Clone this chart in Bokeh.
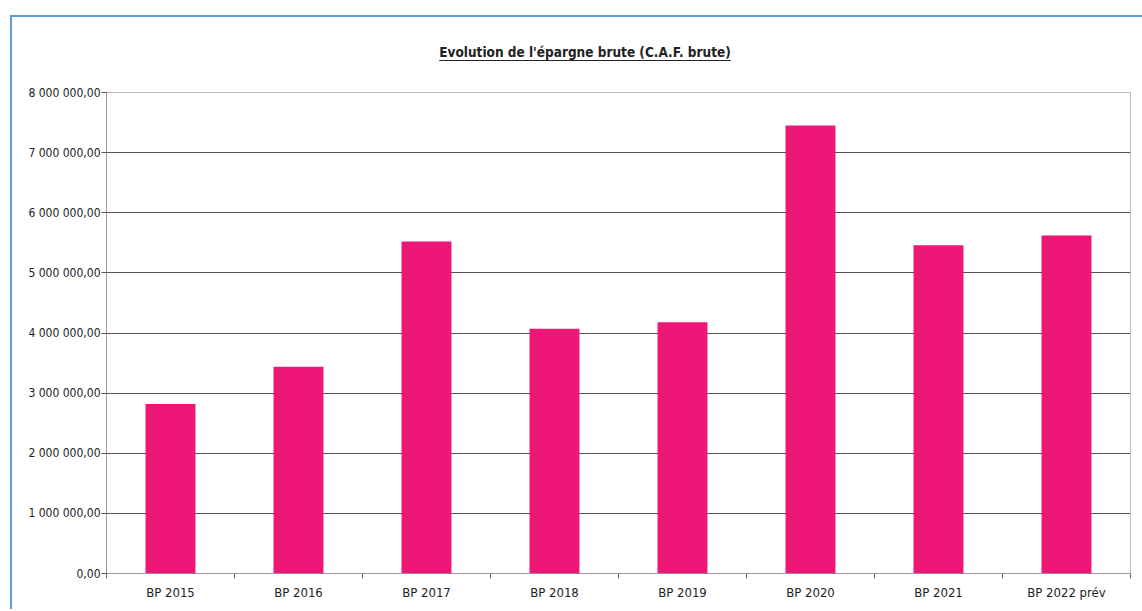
from bokeh.plotting import figure
from bokeh.models import (FixedTicker, CustomJSTickFormatter, LinearAxis, Range1d,
                          ColumnDataSource, Grid, Div)
from bokeh.layouts import column
from bokeh.embed import file_html
from bokeh.resources import INLINE

title_text = "Evolution de l'épargne brute (C.A.F. brute)"
categories = ["BP 2015", "BP 2016", "BP 2017", "BP 2018", "BP 2019", "BP 2020", "BP 2021", "BP 2022 prév"]
values = [2820000, 3440000, 5520000, 4070000, 4180000, 7450000, 5460000, 5620000]
y_ticks = [0, 1000000, 2000000, 3000000, 4000000, 5000000, 6000000, 7000000, 8000000]

FONT = "Liberation Sans Narrow, DejaVu Sans Condensed, sans-serif"
PINK = "#ee1677"

xpos = [i + 0.5 for i in range(len(categories))]
src = ColumnDataSource(dict(x=xpos, top=values))

p = figure(width=1132, height=529, output_backend="svg", toolbar_location=None,
           x_range=Range1d(0, len(categories)), y_range=Range1d(0, 8000000),
           min_border_left=94, min_border_right=14, min_border_top=12, min_border_bottom=36,
           x_axis_type=None, y_axis_type=None)

grid = Grid(dimension=1, ticker=FixedTicker(ticks=y_ticks),
            grid_line_color="#555555", grid_line_width=1)
p.add_layout(grid)

p.vbar(x="x", top="top", width=0.39, bottom=0, source=src, fill_color=PINK, line_color=None)

# y axis
yax = LinearAxis(ticker=FixedTicker(ticks=y_ticks))
yax.formatter = CustomJSTickFormatter(code="""
    const s = Math.round(tick).toString().replace(/\\B(?=(\\d{3})+(?!\\d))/g, ' ');
    return s + ',00';
""")
yax.major_label_text_font = FONT
yax.major_label_text_font_size = "12px"
yax.major_label_text_color = "#222222"
yax.axis_line_color = "#777777"
yax.axis_line_dash = "1 1"
yax.major_tick_line_color = "#555555"
yax.major_tick_out = 5
yax.major_tick_in = 0
yax.minor_tick_line_color = None
yax.major_label_standoff = 1
p.add_layout(yax, "left")

# x axis: labels at centers, tick marks between categories
xax = LinearAxis(ticker=FixedTicker(ticks=xpos, minor_ticks=list(range(len(categories) + 1))))
xax.major_label_overrides = {x: c for x, c in zip(xpos, categories)}
xax.major_label_text_font = FONT
xax.major_label_text_font_size = "13px"
xax.major_label_text_color = "#222222"
xax.major_tick_line_color = None
xax.minor_tick_line_color = "#666666"
xax.minor_tick_out = 5
xax.minor_tick_in = 0
xax.axis_line_color = "#777777"
xax.axis_line_dash = "1 1"
xax.major_label_standoff = 5
p.add_layout(xax, "below")

p.xgrid.grid_line_color = None
p.outline_line_color = "#777777"
p.outline_line_dash = "1 1"

title_div = Div(
    text=('<div style="width:1146px;text-align:center;font-family:%s;font-weight:bold;'
          'font-size:13.5px;line-height:16px;color:#222;text-decoration:underline;'
          'text-underline-offset:3px;padding-top:27px;">%s</div>') % (FONT, title_text),
    width=1132, height=63, margin=0)

layout = column(title_div, p, spacing=0)
layout.margin = (15, 0, 0, 10)
layout.styles = {"border-top": "2px solid #5b9bd5", "border-left": "2px solid #5b9bd5"}

open("out.html", "w").write(file_html(layout, INLINE))
